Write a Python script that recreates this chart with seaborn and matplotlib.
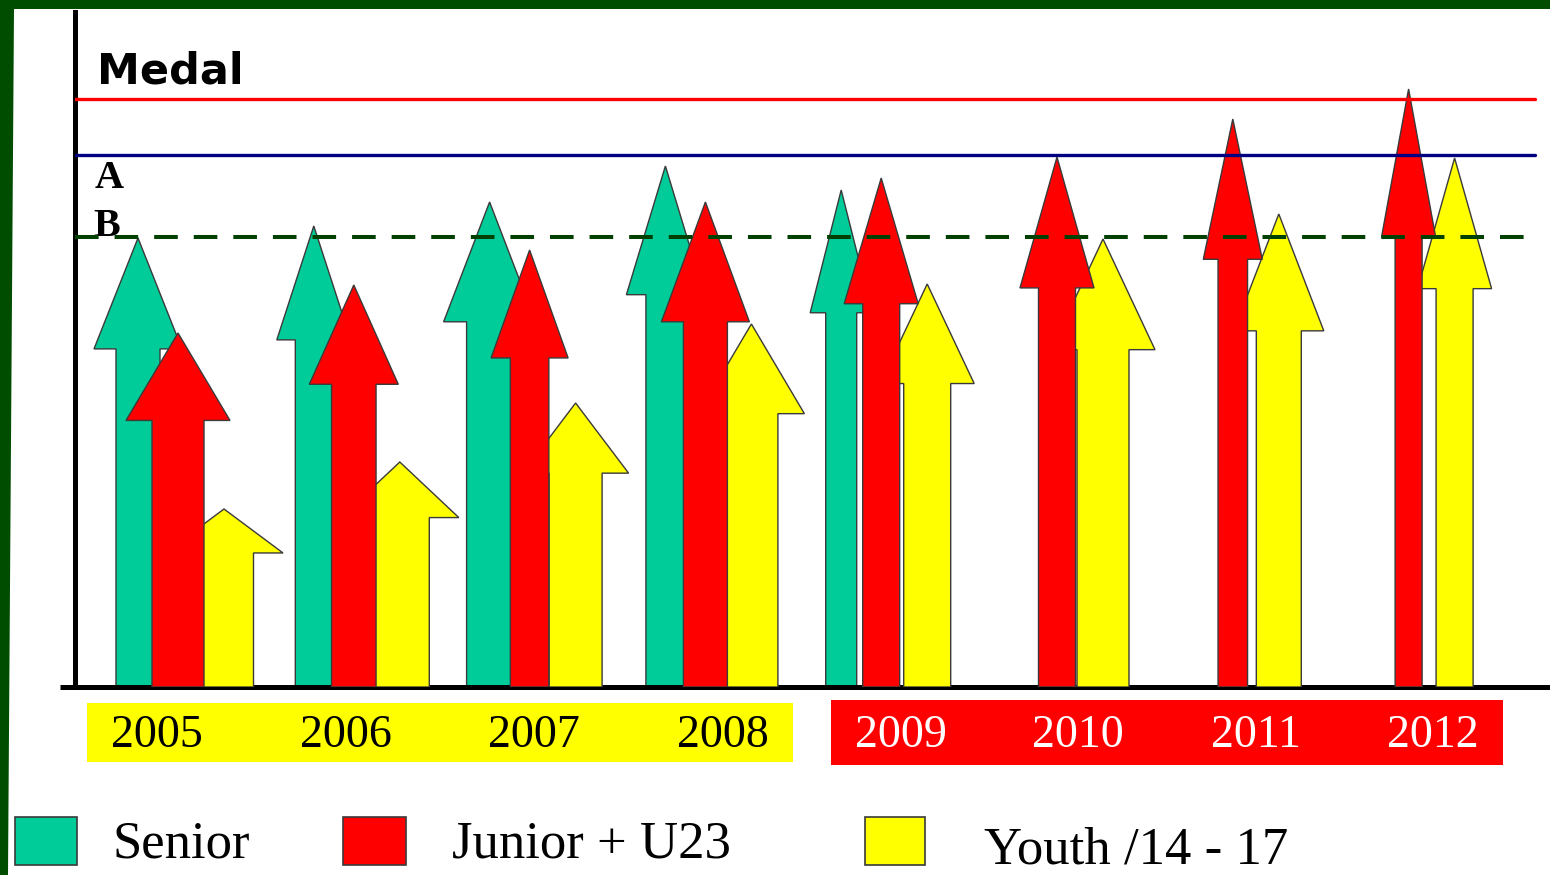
import matplotlib

matplotlib.use("Agg")
import matplotlib.pyplot as plt
import numpy as np
import seaborn as sns
from matplotlib.lines import Line2D
from matplotlib.patches import Polygon, Rectangle

sns.set_theme(style="white")
plt.rcParams["font.family"] = ["DejaVu Sans"]
plt.rcParams["text.color"] = "black"
plt.rcParams["lines.scale_dashes"] = False

# --------------------------------------------------------------------------- #
# Data (arrow tip heights, same scale as the threshold levels)
# --------------------------------------------------------------------------- #
YEARS = ["2005", "2006", "2007", "2008", "2009", "2010", "2011", "2012"]
SENIOR = [449, 461, 485, 521, 497, np.nan, np.nan, np.nan]
JUNIOR_U23 = [354, 402, 437, 485, 509, 530, 568, 598]
YOUTH = [178, 225, 284, 363, 403, 448, 473, 529]

MEDAL_LEVEL = 588
A_LEVEL = 532
B_LEVEL = 450

SERIES_NAMES = ["Senior", "Junior + U23", "Youth /14 - 17"]
PERIOD_1 = ["2005", "2006", "2007", "2008"]
PERIOD_2 = ["2009", "2010", "2011", "2012"]

# --------------------------------------------------------------------------- #
# Styling / layout
# --------------------------------------------------------------------------- #
TEAL, RED, YELLOW = "#00cc99", "#ff0000", "#ffff00"
FRAME_GREEN = "#004d00"
EDGE = "#3a3a3a"

W, H = 1550, 875          # output size in pixels
STEP_PX = 175.8           # px between year groups
FIRST_PX = 178            # px of first group centre
SERIES_OFFSET = {"Senior": -40, "Junior + U23": 0, "Youth /14 - 17": 46}
# head widths (px) of the hand-drawn arrows, shaft = half of head
HEAD_W = {
    "Senior": [88, 74, 92, 78, 62, 0, 0, 0],
    "Junior + U23": [104, 89, 77, 88, 74, 74, 59, 54],
    "Youth /14 - 17": [118, 118, 106, 106, 94, 104, 90, 74],
}
HEAD_FRAC = 0.247         # head length as share of arrow height


def fx(px):
    return px / W


def fy(py):
    return 1 - py / H


def draw_arrow(ax, x, value, head_w, color, z):
    if np.isnan(value) or head_w <= 0:
        return
    h = head_w / 2
    s = head_w / 4
    neck = value * (1 - HEAD_FRAC)
    pts = [(x - s, 0), (x - s, neck), (x - h, neck), (x, value),
           (x + h, neck), (x + s, neck), (x + s, 0)]
    ax.add_patch(Polygon(pts, closed=True, facecolor=color, edgecolor=EDGE,
                         linewidth=1.0, joinstyle="miter", zorder=z))


fig = plt.figure(figsize=(W / 100, H / 100), dpi=100)
fig.patch.set_facecolor(FRAME_GREEN)
fig.add_artist(Polygon([(fx(14), fy(9)), (1, fy(9)), (1, 0), (fx(8), 0)],
                       closed=True, transform=fig.transFigure,
                       facecolor="white", edgecolor="none", zorder=0))

ax = fig.add_axes([fx(75), fy(687), fx(1550) - fx(75), fy(12) - fy(687)])
ax.set_facecolor("none")
ax.set_xlim((75 - FIRST_PX) / STEP_PX, (1550 - FIRST_PX) / STEP_PX)
ax.set_ylim(0, 675)
ax.set_xticks([])
ax.set_yticks([])
sns.despine(ax=ax)
for side in ("left", "bottom"):
    ax.spines[side].set_color("black")
    ax.spines[side].set_linewidth(3.6)
fig.add_artist(Line2D([fx(60), fx(76)], [fy(687), fy(687)], color="black",
                      linewidth=3.6, solid_capstyle="butt"))

# arrows: senior first, youth next, junior on top
series = {"Senior": (SENIOR, TEAL, 2),
          "Youth /14 - 17": (YOUTH, YELLOW, 3),
          "Junior + U23": (JUNIOR_U23, RED, 4)}
for name, (vals, color, z) in series.items():
    for i, v in enumerate(vals):
        x = i + SERIES_OFFSET[name] / STEP_PX
        draw_arrow(ax, x, v, HEAD_W[name][i] / STEP_PX, color, z)

# threshold lines
xmax = (1535 - 75) / 1475
ax.axhline(MEDAL_LEVEL, xmin=0, xmax=xmax, color="#ff0000", lw=2.4, zorder=6)
ax.axhline(A_LEVEL, xmin=0, xmax=xmax, color="#000080", lw=2.4, zorder=6)
ax.axhline(B_LEVEL, xmin=0, xmax=xmax, color="#004000", lw=2.9,
           linestyle=(0, (17, 11.5)), zorder=6)

ytr = ax.get_yaxis_transform()
ax.text(0.015, MEDAL_LEVEL + 16, "Medal", transform=ytr, fontsize=31,
        fontweight="bold", va="baseline", ha="left", color="black")
ax.text(0.0136, A_LEVEL - 33, "A", transform=ytr, fontsize=29, color="black",
        fontweight="bold", family="Liberation Serif", va="baseline")
ax.text(0.0122, B_LEVEL + 1, "B", transform=ytr, fontsize=29, color="black",
        fontweight="bold", family="Liberation Serif", va="baseline")

# year boxes
boxes = [(PERIOD_1, (87, 703, 793, 762), YELLOW, "black"),
         (PERIOD_2, (831, 700, 1503, 765), RED, "white")]
for years, (x0, y0, x1, y1), bg, fg in boxes:
    fig.add_artist(Rectangle((fx(x0), fy(y1)), fx(x1) - fx(x0), fy(y0) - fy(y1),
                             transform=fig.transFigure, facecolor=bg,
                             edgecolor="none"))
    pad = 70
    step = (x1 - x0 - 2 * pad) / (len(years) - 1)
    for k, yr in enumerate(years):
        fig.text(fx(x0 + pad + k * step), fy(747), yr, color=fg, fontsize=33,
                 family="Liberation Serif", ha="center", va="baseline")

# legend
legend_items = [("Senior", TEAL, 15, 77, 113),
                ("Junior + U23", RED, 343, 406, 452),
                ("Youth /14 - 17", YELLOW, 865, 925, 984)]
for label, color, sx0, sx1, tx in legend_items:
    fig.add_artist(Rectangle((fx(sx0), fy(865)), fx(sx1) - fx(sx0), fy(817) - fy(865),
                             transform=fig.transFigure, facecolor=color,
                             edgecolor=EDGE, linewidth=1.2))
    base = 863 if label.startswith("Youth") else 857
    fig.text(fx(tx), fy(base), label, fontsize=38, family="Liberation Serif",
             ha="left", va="baseline", color="black")

fig.savefig("out.png", dpi=100, facecolor=fig.get_facecolor())
